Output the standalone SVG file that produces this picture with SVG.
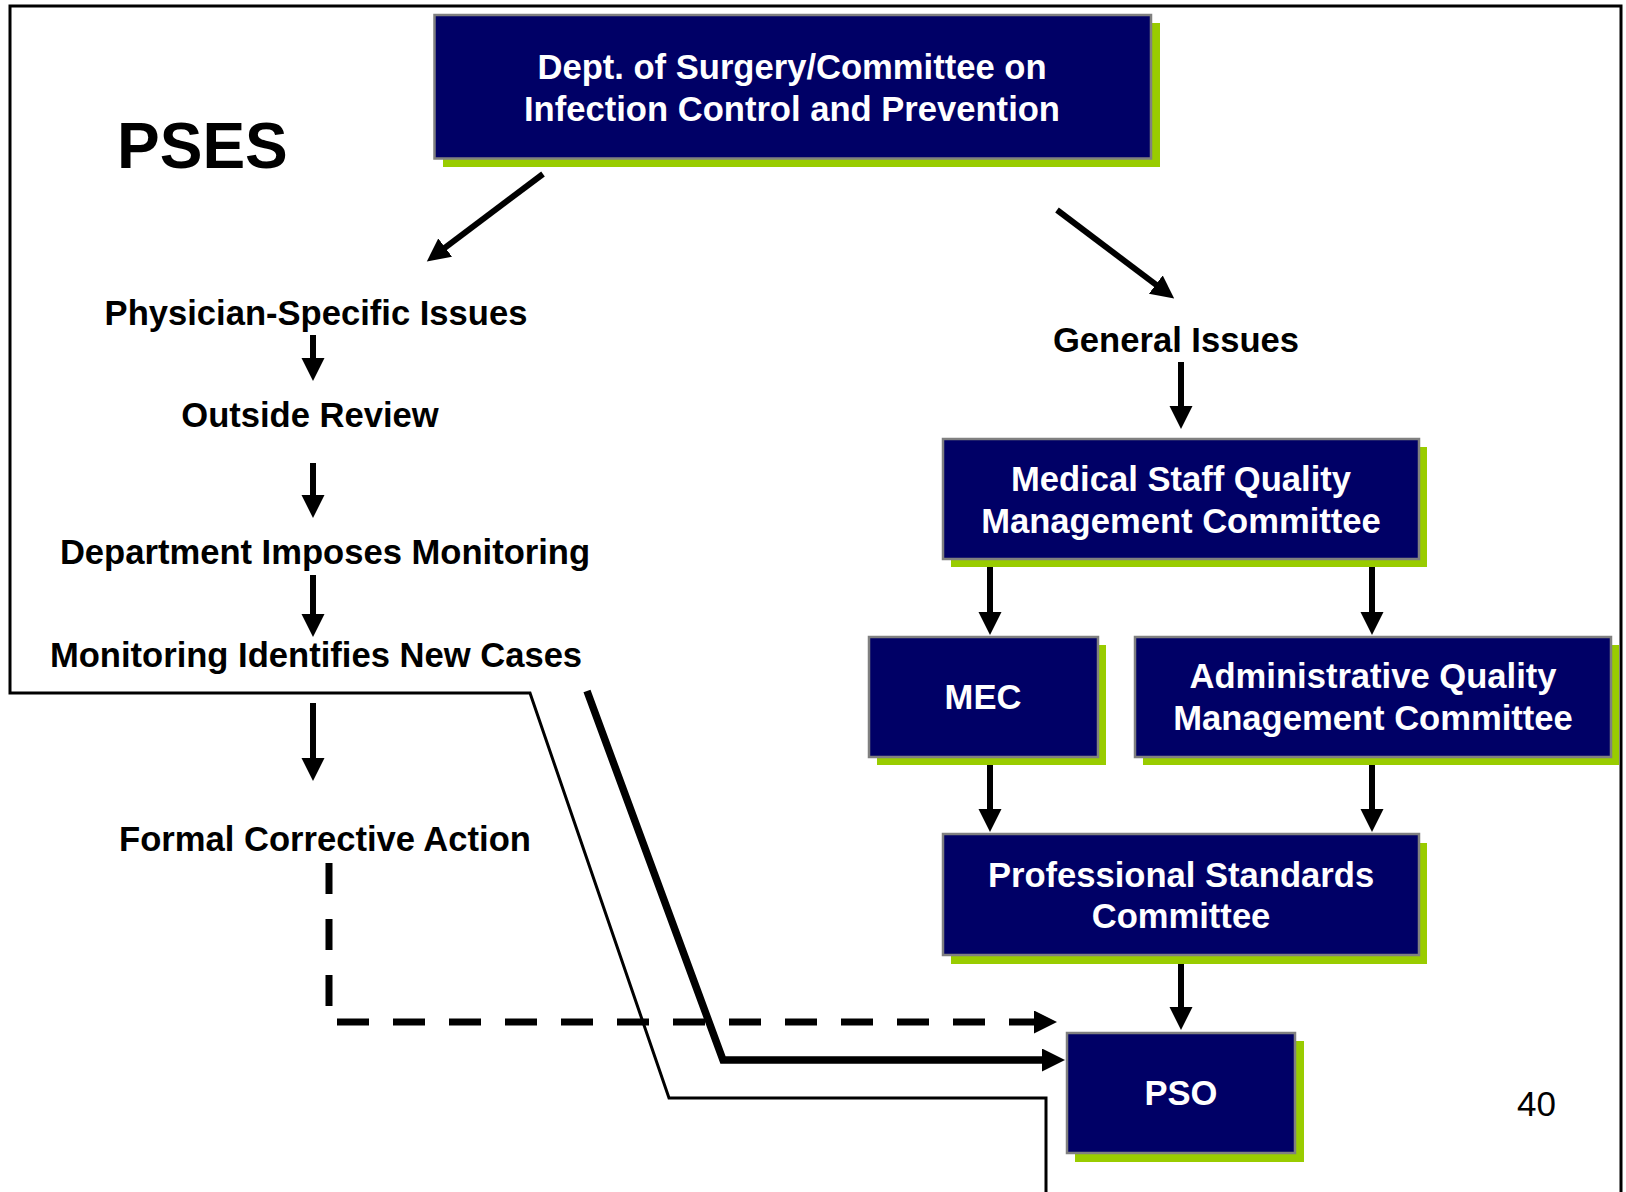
<svg xmlns="http://www.w3.org/2000/svg" width="1626" height="1192" viewBox="0 0 1626 1192">
<style>
.shadow{fill:#99CC00;}
.box{fill:#000066;stroke:#808080;stroke-width:2.5;}
.bt{font-family:"Liberation Sans",Arial,sans-serif;font-weight:bold;font-size:34.6px;fill:#FFFFFF;text-anchor:middle;}
.lt{font-family:"Liberation Sans",Arial,sans-serif;font-weight:bold;font-size:34.6px;fill:#000000;text-anchor:middle;}
.arr{stroke:#000;stroke-width:6;fill:none;marker-end:url(#ah);}
.frame{stroke:#000;stroke-width:3;fill:none;}
</style>
<defs>
<marker id="ah" markerUnits="userSpaceOnUse" markerWidth="24" markerHeight="24" viewBox="0 0 24 24" refX="1" refY="11.5" orient="auto">
<path d="M0,0 L23,11.5 L0,23 z" fill="#000"/>
</marker>
</defs>
<rect width="1626" height="1192" fill="#FFFFFF"/>

<g id="frame">
<path class="frame" d="M1621,1192 L1621,6 L10,6 L10,693 L530,693 L669,1098 L1046,1098 L1046,1192"/>
</g>

<g id="title">
<text x="117" y="168" font-family="Liberation Sans,Arial,sans-serif" font-weight="bold" font-size="64" fill="#000">PSES</text>
</g>

<g id="connectors">
<line class="arr" x1="543" y1="174" x2="444.4" y2="248.2"/>
<line class="arr" x1="1057" y1="210" x2="1156.6" y2="285.2"/>
<line class="arr" x1="313" y1="335" x2="313" y2="359"/>
<line class="arr" x1="313" y1="463" x2="313" y2="496"/>
<line class="arr" x1="313" y1="575" x2="313" y2="615"/>
<line class="arr" x1="313" y1="703" x2="313" y2="759"/>
<line class="arr" x1="1181" y1="362" x2="1181" y2="407"/>
<line class="arr" x1="990" y1="564" x2="990" y2="613"/>
<line class="arr" x1="1372" y1="564" x2="1372" y2="613"/>
<line class="arr" x1="990" y1="763" x2="990" y2="810"/>
<line class="arr" x1="1372" y1="763" x2="1372" y2="810"/>
<line class="arr" x1="1181" y1="959" x2="1181" y2="1008"/>
<line x1="329" y1="863" x2="329" y2="1007" stroke="#000" stroke-width="7" stroke-dasharray="31 25"/>
<line x1="337" y1="1022" x2="1035" y2="1022" stroke="#000" stroke-width="7" stroke-dasharray="32 24" marker-end="url(#ah)"/>
<path d="M587,691 L723,1060 L1043,1060" stroke="#000" stroke-width="7.5" fill="none" stroke-linejoin="miter" marker-end="url(#ah)"/>
</g>

<g id="node-dept">
<rect class="shadow" x="443" y="23" width="717" height="144"/>
<rect class="box" x="434.5" y="15" width="716.5" height="143.5"/>
<text class="bt" x="792" y="79">Dept. of Surgery/Committee on</text>
<text class="bt" x="792" y="120.5">Infection Control and Prevention</text>
</g>

<g id="node-physician">
<text class="lt" x="316" y="325">Physician-Specific Issues</text>
</g>
<g id="node-outside">
<text class="lt" x="310" y="427">Outside Review</text>
</g>
<g id="node-department">
<text class="lt" x="325" y="564">Department Imposes Monitoring</text>
</g>
<g id="node-monitoring">
<text class="lt" x="316" y="667">Monitoring Identifies New Cases</text>
</g>
<g id="node-formal">
<text class="lt" x="325" y="851">Formal Corrective Action</text>
</g>
<g id="node-general">
<text class="lt" x="1176" y="352">General Issues</text>
</g>

<g id="node-msqmc">
<rect class="shadow" x="951" y="447" width="476" height="120"/>
<rect class="box" x="943" y="439" width="476" height="120"/>
<text class="bt" x="1181" y="491">Medical Staff Quality</text>
<text class="bt" x="1181" y="533">Management Committee</text>
</g>

<g id="node-mec">
<rect class="shadow" x="877" y="645" width="229" height="120"/>
<rect class="box" x="869" y="637" width="229" height="120"/>
<text class="bt" x="983" y="709">MEC</text>
</g>

<g id="node-aqmc">
<rect class="shadow" x="1143" y="645" width="476" height="120"/>
<rect class="box" x="1135" y="637" width="476" height="120"/>
<text class="bt" x="1373" y="688">Administrative Quality</text>
<text class="bt" x="1373" y="730">Management Committee</text>
</g>

<g id="node-psc">
<rect class="shadow" x="951" y="843" width="476" height="121"/>
<rect class="box" x="943" y="834" width="476" height="121"/>
<text class="bt" x="1181" y="887">Professional Standards</text>
<text class="bt" x="1181" y="928">Committee</text>
</g>

<g id="node-pso">
<rect class="shadow" x="1075" y="1041" width="229" height="121"/>
<rect class="box" x="1067" y="1033" width="228" height="120"/>
<text class="bt" x="1181" y="1105">PSO</text>
</g>

<g id="page-number">
<text x="1536.5" y="1116" font-family="Liberation Sans,Arial,sans-serif" font-size="35" fill="#000" text-anchor="middle">40</text>
</g>
</svg>
